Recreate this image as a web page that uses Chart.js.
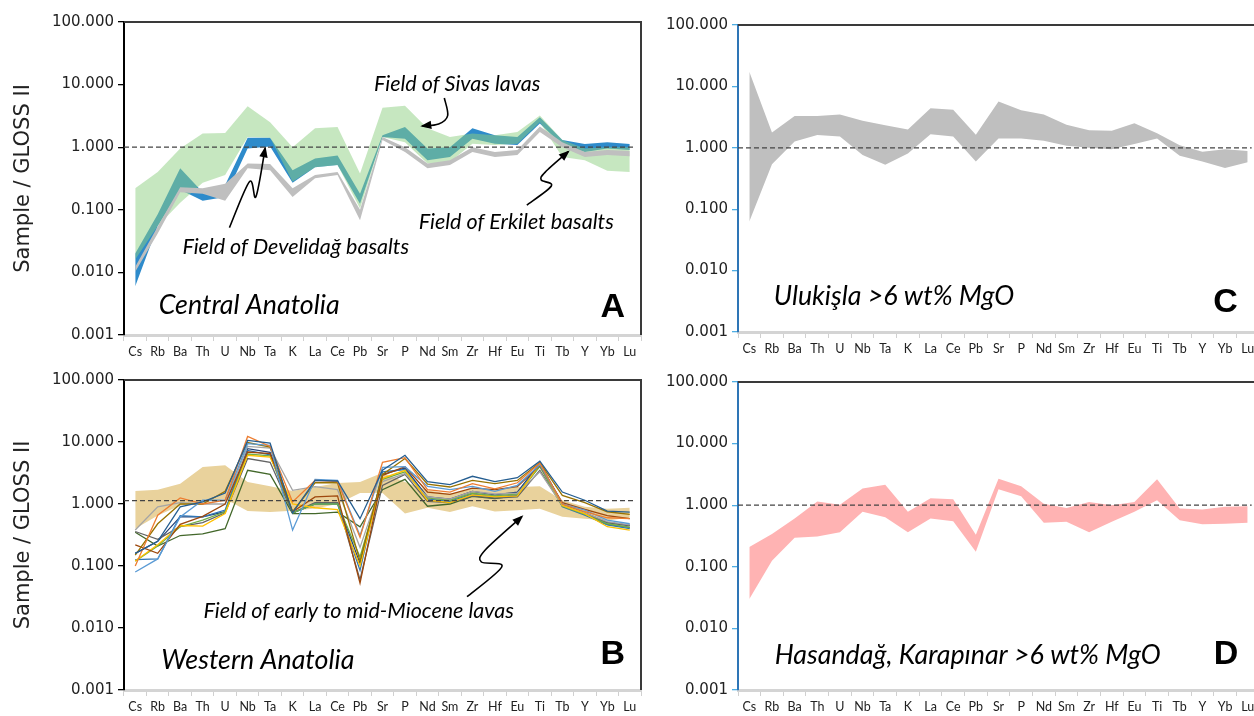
<!DOCTYPE html>
<html><head><meta charset="utf-8">
<script src="https://cdn.jsdelivr.net/npm/chart.js@4"></script>
<style>
html,body{margin:0;padding:0;background:#fff;}
body{width:1254px;height:716px;overflow:hidden;position:relative;}
canvas{position:absolute;display:block;}
</style></head><body>
<canvas id="cA" width="650" height="362" style="left:0;top:0;width:650px;height:362px"></canvas>
<canvas id="cB" width="650" height="358" style="left:0;top:358px;width:650px;height:358px"></canvas>
<canvas id="cC" width="640" height="362" style="left:640px;top:0;width:640px;height:362px"></canvas>
<canvas id="cD" width="640" height="358" style="left:640px;top:358px;width:640px;height:358px"></canvas>
<script>
// ---------- categories & ticks ----------
const elements = ['Cs','Rb','Ba','Th','U','Nb','Ta','K','La','Ce','Pb','Sr','P','Nd','Sm','Zr','Hf','Eu','Ti','Tb','Y','Yb','Lu'];
const yTickValues = [0.001, 0.01, 0.1, 1, 10, 100];
const yTickLabels = ['0.001', '0.010', '0.100', '1.000', '10.000', '100.000'];
const yTitle = 'Sample / GLOSS II';

// ---------- Panel A: Central Anatolia ----------
const sivasUpper = [0.22,0.40,0.95,1.65,1.69,4.5,2.5,1.0,2.0,2.1,0.38,4.25,4.6,2.0,1.46,1.65,1.55,1.75,3.2,1.3,0.95,1.0,1.0];
const sivasLower = [0.016,0.055,0.13,0.27,0.36,1.45,1.42,0.28,0.48,0.52,0.105,1.45,1.2,0.55,0.58,1.14,1.08,1.14,2.5,0.70,0.62,0.42,0.40];
const develUpper = [0.02,0.085,0.46,0.19,0.25,1.41,1.41,0.43,0.66,0.74,0.18,1.55,2.1,0.95,1.0,2.0,1.55,1.46,3.0,1.3,1.12,1.2,1.12];
const develLower = [0.006,0.055,0.21,0.14,0.16,0.95,1.03,0.27,0.48,0.52,0.125,1.45,1.37,0.62,0.70,1.37,1.14,1.08,2.4,1.08,0.84,0.95,0.90];
const erkiletUpper = [0.0123,0.054,0.23,0.22,0.26,0.55,0.54,0.22,0.36,0.40,0.10,1.46,1.0,0.55,0.62,1.0,0.84,0.9,2.15,1.2,0.84,0.9,0.87];
const erkiletLower = [0.0102,0.042,0.19,0.18,0.14,0.46,0.43,0.16,0.32,0.36,0.068,1.3,0.84,0.46,0.52,0.84,0.70,0.75,1.75,1.0,0.70,0.75,0.72];

// ---------- Panel B: Western Anatolia ----------
const mioceneUpper = [1.62,1.70,2.13,3.95,4.2,2.26,1.93,1.62,1.88,2.18,2.26,3.2,2.26,1.66,1.47,1.77,1.66,1.88,1.93,1.15,0.9,0.84,0.87];
const mioceneLower = [0.40,0.65,0.95,1.05,1.2,0.77,0.74,0.78,0.85,1.0,1.5,1.5,0.70,0.87,0.74,0.92,0.76,0.79,0.84,0.62,0.58,0.54,0.60];
const wa01 = [0.16,0.25,0.9,1.08,1.5,10.6,9.6,0.72,2.4,2.35,0.58,3.5,6.1,2.3,2.05,2.8,2.3,2.66,4.9,1.56,1.15,0.77,0.74];
const wa02 = [0.10,0.66,1.25,1.0,1.15,12.3,8.5,1.08,2.4,2.3,0.29,4.7,5.6,1.7,1.56,2.13,1.75,2.2,4.6,1.0,0.75,0.6,0.58];
const wa03 = [0.08,0.13,0.62,1.15,1.15,9.4,8.8,0.38,2.5,2.4,0.31,3.9,4.0,1.93,1.7,1.93,1.6,2.0,4.3,1.0,0.8,0.55,0.48];
const wa04 = [0.15,0.48,1.0,1.0,1.6,9.8,8.3,0.75,2.2,2.2,0.12,3.0,5.4,2.1,1.88,2.4,2.13,2.4,4.7,1.38,1.05,0.75,0.68];
const wa05 = [0.22,0.16,0.47,0.63,1.0,6.9,6.5,0.75,1.3,1.35,0.053,2.9,4.0,1.56,1.43,1.8,1.7,1.9,4.2,1.05,0.82,0.65,0.58];
const wa06 = [0.12,0.22,0.45,0.44,0.7,6.1,5.7,1.0,0.87,0.81,0.10,2.6,3.5,1.15,1.05,1.4,1.3,1.35,4.4,0.95,0.7,0.43,0.38];
const wa07 = [0.38,0.9,1.05,1.0,1.0,8.5,8.0,1.66,1.9,1.7,0.2,2.3,3.1,1.3,1.2,1.6,1.45,1.5,3.3,0.95,0.72,0.52,0.46];
const wa08 = [0.12,0.21,0.43,0.55,0.75,6.4,6.0,0.72,1.0,1.0,0.14,2.5,3.3,1.25,1.15,1.5,1.35,1.45,4.0,0.92,0.68,0.48,0.42];
const wa09 = [0.127,0.13,0.65,0.62,0.8,7.3,6.2,0.72,1.0,1.0,0.085,3.3,3.6,1.2,1.1,1.45,1.3,1.4,4.5,0.9,0.66,0.46,0.40];
const wa10 = [0.36,0.27,0.43,0.5,0.72,5.4,4.7,0.72,1.05,1.05,0.06,2.0,3.0,1.1,1.05,1.35,1.25,1.3,3.5,0.95,0.7,0.5,0.45];
const wa11 = [0.35,0.21,0.31,0.33,0.40,3.5,3.0,0.70,0.70,0.74,0.43,1.7,2.5,0.92,1.0,1.33,1.22,1.38,4.2,0.95,0.7,0.47,0.42];
const wa12 = [0.16,0.25,0.62,0.62,0.75,7.8,6.8,0.72,1.0,1.05,0.11,3.0,3.8,1.3,1.2,1.6,1.4,1.55,4.6,1.0,0.72,0.5,0.45];
const waSeries = [wa01, wa02, wa03, wa04, wa05, wa06, wa07, wa08, wa09, wa10, wa11, wa12];
const waColors = ['#255E91','#ED7D31','#5B9BD5','#997300','#9E480E','#FFC000','#A5A5A5','#70AD47','#2E75B6','#636363','#43682B','#264478'];
const refLineB = 1.13;

// ---------- Panel C: Ulukisla ----------
const ulukislaUpper = [17.4,1.78,3.3,3.3,3.5,2.75,2.34,1.99,4.4,4.17,1.63,5.7,4.1,3.5,2.37,1.94,1.89,2.52,1.73,1.1,0.86,0.95,0.89];
const ulukislaLower = [0.063,0.54,1.27,1.61,1.53,0.76,0.53,0.81,1.67,1.53,0.60,1.42,1.42,1.3,1.08,1.0,0.95,1.15,1.42,0.74,0.60,0.47,0.58];

// ---------- Panel D: Hasandag, Karapinar ----------
const hasanUpper = [0.21,0.34,0.61,1.15,1.02,1.86,2.14,0.78,1.3,1.25,0.33,2.7,2.03,1.06,0.9,1.13,1.0,1.13,2.64,0.88,0.85,0.94,0.96];
const hasanLower = [0.030,0.125,0.295,0.31,0.365,0.78,0.64,0.365,0.61,0.55,0.175,1.82,1.4,0.52,0.54,0.365,0.54,0.78,1.2,0.57,0.49,0.5,0.52];

// ---------- helpers ----------
const italicSmall = 'italic 21.5px Lato';
const italicBig = 'italic 26.8px Lato';
const boldLetter = 'bold 34px "Liberation Sans"';

function band(upper, lower, color) {
  return [
    {data: upper, fill: '+1', backgroundColor: color, borderColor: 'rgba(0,0,0,0)', borderWidth: 0, pointRadius: 0, tension: 0},
    {data: lower, fill: false, backgroundColor: color, borderColor: 'rgba(0,0,0,0)', borderWidth: 0, pointRadius: 0, tension: 0}
  ];
}

function smoothPath(ctx, pts) {
  ctx.moveTo(pts[0][0], pts[0][1]);
  for (let i = 0; i < pts.length - 1; i++) {
    const p0 = pts[Math.max(i - 1, 0)], p1 = pts[i], p2 = pts[i + 1], p3 = pts[Math.min(i + 2, pts.length - 1)];
    const t = 1 / 3;
    const c1 = [p1[0] + (p2[0] - p0[0]) * t / 2, p1[1] + (p2[1] - p0[1]) * t / 2];
    const c2 = [p2[0] - (p3[0] - p1[0]) * t / 2, p2[1] - (p3[1] - p1[1]) * t / 2];
    ctx.bezierCurveTo(c1[0], c1[1], c2[0], c2[1], p2[0], p2[1]);
  }
}

const panelPlugin = {
  id: 'panel',
  afterDatasetsDraw(chart, args, opts) {
    const {ctx, chartArea: a, scales: {x, y}} = chart;
    ctx.save();
    ctx.strokeStyle = '#444';
    ctx.lineWidth = 1.3;
    ctx.setLineDash([5, 3]);
    const yy = y.getPixelForValue(opts.ref);
    ctx.beginPath();
    ctx.moveTo(a.left, yy);
    ctx.lineTo(x.getPixelForValue(elements.length - 1) + 4, yy);
    ctx.stroke();
    ctx.restore();
  },
  afterDraw(chart, args, opts) {
    const {ctx, chartArea: a, scales: {x, y}} = chart;
    ctx.save();
    // frame top and right
    ctx.strokeStyle = '#3a3a3a';
    ctx.lineWidth = 2;
    ctx.beginPath();
    ctx.moveTo(a.left, a.top);
    ctx.lineTo(a.right, a.top);
    ctx.lineTo(a.right, a.bottom);
    ctx.stroke();
    // arrows
    (opts.arrows || []).forEach(arr => {
      const pts = arr.map(p => [x.getPixelForValue(p[0]), y.getPixelForValue(p[1])]);
      ctx.strokeStyle = '#000';
      ctx.fillStyle = '#000';
      ctx.lineWidth = 1.6;
      ctx.beginPath();
      smoothPath(ctx, pts);
      ctx.stroke();
      const e = pts[pts.length - 1], s = pts[pts.length - 2];
      const ang = Math.atan2(e[1] - s[1], e[0] - s[0]);
      const L = 9, W = 4.2;
      ctx.beginPath();
      ctx.moveTo(e[0] + Math.cos(ang) * 2, e[1] + Math.sin(ang) * 2);
      ctx.lineTo(e[0] - Math.cos(ang) * L - Math.sin(ang) * W, e[1] - Math.sin(ang) * L + Math.cos(ang) * W);
      ctx.lineTo(e[0] - Math.cos(ang) * L + Math.sin(ang) * W, e[1] - Math.sin(ang) * L - Math.cos(ang) * W);
      ctx.closePath();
      ctx.fill();
    });
    // texts
    (opts.notes || []).forEach(n => {
      ctx.font = n.font;
      ctx.fillStyle = '#000';
      ctx.textAlign = 'center';
      ctx.textBaseline = 'middle';
      ctx.fillText(n.text, x.getPixelForValue(n.at[0]), y.getPixelForValue(n.at[1]));
    });
    ctx.restore();
  }
};

function makeChart(id, datasets, cfg) {
  const axisColor = cfg.blueAxis ? '#2E75B6' : '#000';
  const tickColor = cfg.blueAxis ? '#4FAEE3' : '#000';
  return new Chart(document.getElementById(id), {
    type: 'line',
    data: {labels: elements, datasets: datasets},
    plugins: [panelPlugin],
    options: {
      responsive: false,
      animation: false,
      events: [],
      layout: {padding: {top: cfg.padTop, right: cfg.padRight, left: 0, bottom: 0}},
      plugins: {
        legend: {display: false},
        tooltip: {enabled: false},
        filler: {propagate: false},
        panel: {ref: cfg.ref, notes: cfg.notes, arrows: cfg.arrows}
      },
      elements: {line: {tension: 0}},
      scales: {
        x: {
          type: 'category',
          offset: true,
          grid: {offset: true, drawOnChartArea: false, drawTicks: true, tickLength: 6, color: '#D0D0D0', lineWidth: 1},
          border: {display: true, color: '#D4D4D4', width: 3},
          ticks: {autoSkip: false, maxRotation: 0, minRotation: 0, padding: 3, color: '#222', font: {family: 'Lato', size: 12.5}},
          afterFit: s => { s.height = cfg.xHeight; }
        },
        y: {
          type: 'logarithmic',
          min: 0.001,
          max: 100,
          afterBuildTicks: s => { s.ticks = yTickValues.map(v => ({value: v, major: true})); },
          grid: {drawOnChartArea: false, drawTicks: true, tickLength: 6, color: tickColor, lineWidth: 1.3},
          border: {display: true, color: axisColor, width: 2},
          ticks: {
            padding: 4,
            color: '#222',
            font: {family: 'DejaVu Sans', size: 15},
            callback: v => { const i = yTickValues.findIndex(t => Math.abs(t - v) / t < 1e-6); return i >= 0 ? yTickLabels[i] : ''; }
          },
          title: cfg.yTitle ? {display: true, text: yTitle, color: '#222', font: {family: 'DejaVu Sans', size: 21}, padding: {top: 11, bottom: 0}} : {display: false},
          afterFit: s => { s.width = cfg.yWidth; }
        }
      }
    }
  });
}

// ---------- Panel A ----------
makeChart('cA', [
  ...band(erkiletUpper, erkiletLower, '#BFBFBF'),
  ...band(sivasUpper, sivasLower, 'rgba(141,207,129,0.5)'),
  ...band(develUpper, develLower, '#2E8BCB')
], {
  padTop: 22, padRight: 9, xHeight: 27, yWidth: 124, yTitle: true, ref: 1,
  notes: [
    {text: 'Field of Sivas lavas', at: [14.32, 10.2], font: italicSmall},
    {text: 'Field of Develidağ basalts', at: [7.14, 0.0255], font: italicSmall},
    {text: 'Field of Erkilet basalts', at: [16.95, 0.0638], font: italicSmall},
    {text: 'Central Anatolia', at: [5.07, 0.00301], font: italicBig},
    {text: 'A', at: [21.24, 0.0027], font: boldLetter}
  ],
  arrows: [
    [[13.75, 6.11], [13.9, 3.2], [13.5, 2.35], [12.77, 2.18]],
    [[4.19, 0.0518], [5.08, 0.281], [5.37, 0.162], [5.78, 0.96]],
    [[17.42, 0.119], [18.51, 0.24], [18.06, 0.30], [18.24, 0.40], [19.26, 0.847]]
  ]
});

// ---------- Panel B ----------
const bDatasets = waSeries.map((s, i) => ({data: s, borderColor: waColors[i], backgroundColor: waColors[i], borderWidth: 1.3, pointRadius: 0, fill: false}));
makeChart('cB', [
  ...bDatasets,
  ...band(mioceneUpper, mioceneLower, '#E9D29C')
], {
  padTop: 22, padRight: 9, xHeight: 26, yWidth: 124, yTitle: true, ref: refLineB,
  notes: [
    {text: 'Field of early to mid-Miocene lavas', at: [9.94, 0.0188], font: italicSmall},
    {text: 'Western Anatolia', at: [5.45, 0.00305], font: italicBig},
    {text: 'B', at: [21.24, 0.00374], font: boldLetter}
  ],
  arrows: [
    [[14.76, 0.032], [16.31, 0.0975], [15.4, 0.116], [15.57, 0.181], [17.2, 0.624]]
  ]
});

// ---------- Panel C ----------
makeChart('cC', band(ulukislaUpper, ulukislaLower, '#BFBFBF'), {
  padTop: 25, padRight: 21, xHeight: 30, yWidth: 98, yTitle: false, blueAxis: true, ref: 1,
  notes: [
    {text: 'Ulukişla >6 wt% MgO', at: [6.39, 0.00385], font: italicBig},
    {text: 'C', at: [21.02, 0.00297], font: boldLetter}
  ]
});

// ---------- Panel D ----------
makeChart('cD', band(hasanUpper, hasanLower, '#FFB3B3'), {
  padTop: 24, padRight: 21, xHeight: 26, yWidth: 98, yTitle: false, blueAxis: true, ref: 1,
  notes: [
    {text: 'Hasandağ, Karapınar >6 wt% MgO', at: [9.64, 0.0037], font: italicBig},
    {text: 'D', at: [21.04, 0.00377], font: boldLetter}
  ]
});
</script>
</body></html>
